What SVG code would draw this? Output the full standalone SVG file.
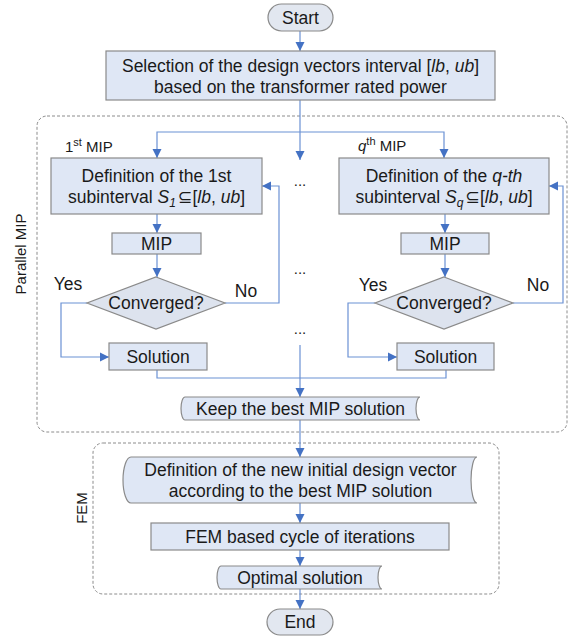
<svg xmlns="http://www.w3.org/2000/svg" width="571" height="639" viewBox="0 0 571 639">
<defs>
<style>
text{font-family:"Liberation Sans","DejaVu Sans",Arial,sans-serif;fill:#1a1a1a;}
.t{font-size:17.5px;text-anchor:middle;}
.s{font-size:15px;}
.i{font-style:italic;}
.box{fill:#dfe7f5;stroke:#8a8a8a;stroke-width:1.2;}
.dia{fill:#dde3ee;stroke:#8a8a8a;stroke-width:1.2;}
.pill{fill:#e2e7f0;stroke:#8a8a8a;stroke-width:1.2;}
.cont{fill:none;stroke:#8c8c8c;stroke-width:1;stroke-dasharray:3 2;}
.c{fill:none;stroke:#6b91d4;stroke-width:1.2;}
.a{marker-end:url(#ah);}
</style>
<marker id="ah" markerUnits="userSpaceOnUse" markerWidth="10" markerHeight="10" refX="9" refY="5" orient="auto">
<path d="M0,0.5 L9,5 L0,9.5 z" fill="#4472c4"/>
</marker>
</defs>
<rect width="571" height="639" fill="#ffffff"/>

<g id="containers">
<rect class="cont" x="37" y="116" width="530" height="316" rx="10"/>
<text class="s" text-anchor="middle" transform="translate(26,254) rotate(-90)">Parallel MIP</text>
<rect class="cont" x="93" y="443" width="406" height="151" rx="10"/>
<text class="s" text-anchor="middle" transform="translate(87,508) rotate(-90)">FEM</text>
</g>

<g id="connectors">
<path class="c a" d="M300,31 V51"/>
<path class="c" d="M300,100 V132"/>
<path class="c a" d="M300,132 H157 V158"/>
<path class="c a" d="M300,132 H444 V158"/>
<path class="c a" d="M300,132 V160"/>
<path class="c a" d="M157,214 V233"/>
<path class="c a" d="M445,214 V233"/>
<path class="c a" d="M157,254 V277"/>
<path class="c a" d="M445,254 V277"/>
<path class="c a" d="M87,303 H61 V357 H109"/>
<path class="c a" d="M225,303 H279 V186 H262"/>
<path class="c a" d="M375,303 H348 V357 H397"/>
<path class="c a" d="M513,303 H563 V186 H549"/>
<path class="c" d="M157,370 V378 H300"/>
<path class="c" d="M446,370 V378 H300"/>
<path class="c a" d="M300,345 V397"/>
<path class="c a" d="M300,420 V457"/>
<path class="c a" d="M300,503 V523"/>
<path class="c a" d="M300,550 V566"/>
<path class="c a" d="M300,589 V609"/>
<text class="s" x="300" y="186" text-anchor="middle">...</text>
<text class="s" x="300" y="274" text-anchor="middle">...</text>
<text class="s" x="300" y="334" text-anchor="middle">...</text>
<text class="t" x="68" y="290">Yes</text>
<text class="t" x="246" y="297">No</text>
<text class="t" x="373" y="291">Yes</text>
<text class="t" x="538" y="291">No</text>
</g>

<g id="start">
<rect class="pill" x="268" y="4" width="65" height="27" rx="13.5"/>
<text class="t" x="300.5" y="23.5">Start</text>
</g>

<g id="selection">
<rect class="box" x="106" y="51" width="389" height="49"/>
<text class="t" x="300.5" y="72">Selection of the design vectors interval [<tspan class="i">lb</tspan>, <tspan class="i">ub</tspan>]</text>
<text class="t" x="300.5" y="92.5">based on the transformer rated power</text>
</g>

<g id="label-1st">
<text class="s" x="65" y="152">1<tspan font-size="11" dy="-6">st</tspan><tspan dy="6"> MIP</tspan></text>
</g>
<g id="label-qth">
<text class="s" x="358" y="151"><tspan class="i">q</tspan><tspan font-size="11" dy="-6">th</tspan><tspan dy="6"> MIP</tspan></text>
</g>

<g id="def1">
<rect class="box" x="51" y="158" width="211" height="56"/>
<text class="t" x="156.5" y="182">Definition of the 1st</text>
<text class="t" x="156.5" y="203">subinterval <tspan class="i">S</tspan><tspan class="i" font-size="12" dy="4">1</tspan><tspan dy="-4" dx="2">⊆[</tspan><tspan class="i">lb</tspan>, <tspan class="i">ub</tspan>]</text>
</g>

<g id="defq">
<rect class="box" x="339" y="158" width="210" height="56"/>
<text class="t" x="444" y="182">Definition of the <tspan class="i">q-th</tspan></text>
<text class="t" x="444" y="203">subinterval <tspan class="i">S</tspan><tspan class="i" font-size="12" dy="4">q</tspan><tspan dy="-4" dx="2">⊆[</tspan><tspan class="i">lb</tspan>, <tspan class="i">ub</tspan>]</text>
</g>

<g id="mip1">
<rect class="box" x="112" y="233" width="89" height="21"/>
<text class="t" x="156.5" y="250">MIP</text>
</g>
<g id="mipq">
<rect class="box" x="401" y="233" width="88" height="21"/>
<text class="t" x="445" y="250">MIP</text>
</g>

<g id="conv1">
<polygon class="dia" points="156,277 225,303 156,329 87,303"/>
<text class="t" x="156" y="309">Converged?</text>
</g>
<g id="convq">
<polygon class="dia" points="444,277 513,303 444,329 375,303"/>
<text class="t" x="444" y="309">Converged?</text>
</g>

<g id="sol1">
<rect class="box" x="109" y="343" width="98" height="27"/>
<text class="t" x="158" y="363">Solution</text>
</g>
<g id="solq">
<rect class="box" x="397" y="343" width="97" height="27"/>
<text class="t" x="445.5" y="363">Solution</text>
</g>

<g id="keep">
<path class="box" d="M185,397 H420 A4,11.5 0 0 0 420,420 H185 A4,11.5 0 0 1 185,397 Z"/>
<text class="t" x="300.5" y="415">Keep the best MIP solution</text>
</g>

<g id="newdef">
<path class="box" d="M131,457 H477 A6,23 0 0 0 477,503 H131 A8,23 0 0 1 131,457 Z"/>
<text class="t" x="300.5" y="476">Definition of the new initial design vector</text>
<text class="t" x="300.5" y="497">according to the best MIP solution</text>
</g>

<g id="femcycle">
<rect class="box" x="151" y="523" width="298" height="27"/>
<text class="t" x="300" y="543">FEM based cycle of iterations</text>
</g>

<g id="optimal">
<path class="box" d="M221,566 H382 A4,11.5 0 0 0 382,589 H221 A4,11.5 0 0 1 221,566 Z"/>
<text class="t" x="300" y="584">Optimal solution</text>
</g>

<g id="end">
<rect class="pill" x="267" y="609" width="66" height="26" rx="13"/>
<text class="t" x="300" y="628">End</text>
</g>
</svg>
